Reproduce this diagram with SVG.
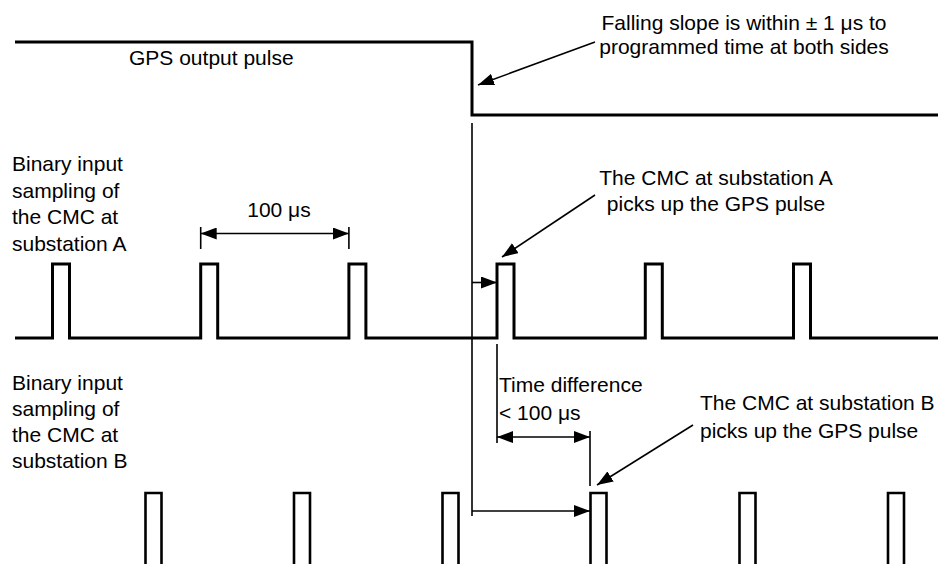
<svg xmlns="http://www.w3.org/2000/svg" width="938" height="564" viewBox="0 0 938 564">
<style>
text{font-family:"Liberation Sans",Arial,sans-serif;font-size:21px;fill:#000}
.wave{fill:none;stroke:#000;stroke-width:3;stroke-linejoin:miter}
.wb{fill:none;stroke:#000;stroke-width:2.6}
.thin{fill:none;stroke:#000;stroke-width:1.6}
.arr{fill:none;stroke:#000;stroke-width:1.6;marker-end:url(#ah)}
.darr{fill:none;stroke:#000;stroke-width:1.6;marker-start:url(#ah);marker-end:url(#ah)}
</style>
<defs>
<marker id="ah" markerUnits="userSpaceOnUse" markerWidth="17" markerHeight="12" refX="16" refY="6" orient="auto-start-reverse">
<path d="M0,0 L16,6 L0,12 Z" fill="#000"/>
</marker>
</defs>
<g id="gps">
<path class="wave" d="M15,42 H472 V115 H938"/>
<text x="129" y="65">GPS output pulse</text>
</g>
<g id="waveA">
<path class="wave" d="M15,338 H52.5 V264 H69.5 V338 H200.7 V264 H217.7 V338 H348.9 V264 H365.9 V338 H497 V264 H514 V338 H645.3 V264 H662.3 V338 H793.5 V264 H810.5 V338 H938"/>
<text x="12" y="171">Binary input</text>
<text x="12" y="197.5">sampling of</text>
<text x="12" y="224">the CMC at</text>
<text x="12" y="250.5">substation A</text>
</g>
<g id="waveB">
<path class="wb" d="M145.5,564 V493 H161.5 V564 M294,564 V493 H310 V564 M442.5,564 V493 H458.5 V564 M590.5,564 V493 H606.5 V564 M739.5,564 V493 H755.5 V564 M888,564 V493 H904 V564"/>
<text x="12" y="390">Binary input</text>
<text x="12" y="416">sampling of</text>
<text x="12" y="442">the CMC at</text>
<text x="12" y="468">substation B</text>
</g>
<g id="label-falling">
<text x="744" y="30" text-anchor="middle">Falling slope is within ± 1 μs to</text>
<text x="744" y="54" text-anchor="middle">programmed time at both sides</text>
</g>
<g id="label-period">
<text x="279" y="217" text-anchor="middle">100 μs</text>
</g>
<g id="label-A">
<text x="716" y="185" text-anchor="middle">The CMC at substation A</text>
<text x="716" y="211" text-anchor="middle">picks up the GPS pulse</text>
</g>
<g id="label-diff">
<text x="499" y="392">Time difference</text>
<text x="499" y="420">&lt; 100 μs</text>
</g>
<g id="label-B">
<text x="700" y="410">The CMC at substation B</text>
<text x="700" y="438">picks up the GPS pulse</text>
</g>
<g id="connectors">
<line class="thin" x1="472" y1="123" x2="472" y2="516"/>
<line class="thin" x1="200.7" y1="227" x2="200.7" y2="249"/>
<line class="thin" x1="348.9" y1="227" x2="348.9" y2="249"/>
<line class="darr" x1="200.7" y1="233.5" x2="348.9" y2="233.5"/>
<line class="arr" x1="472" y1="282.5" x2="497" y2="282.5"/>
<line class="thin" x1="497" y1="344" x2="497" y2="443"/>
<line class="thin" x1="590" y1="431" x2="590" y2="486"/>
<line class="darr" x1="497" y1="437" x2="590" y2="437"/>
<line class="arr" x1="472" y1="511" x2="590" y2="511"/>
<line class="arr" x1="595" y1="42" x2="478" y2="85"/>
<line class="arr" x1="595" y1="195" x2="502" y2="257"/>
<line class="arr" x1="693" y1="425" x2="597" y2="485"/>
</g>
</svg>
